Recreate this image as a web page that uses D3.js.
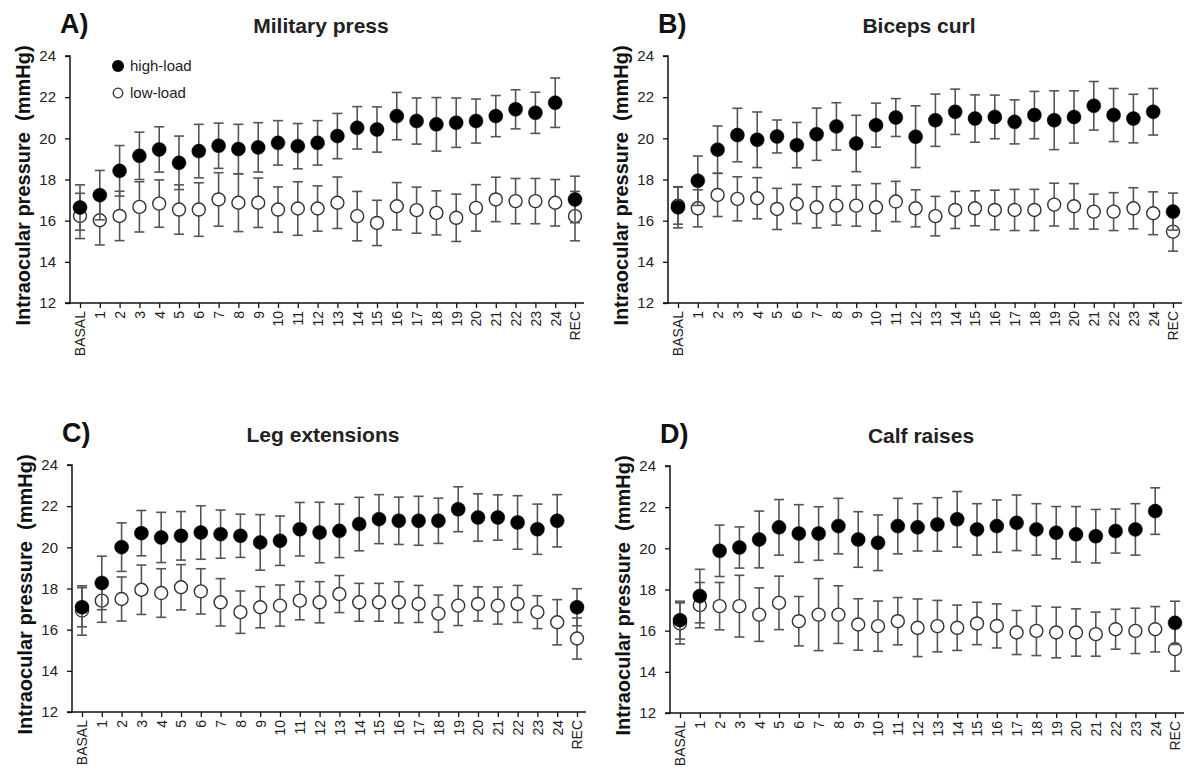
<!DOCTYPE html>
<html>
<head>
<meta charset="utf-8">
<script src="https://cdn.jsdelivr.net/npm/d3@7"></script>
<style>
  body { margin: 0; background: #fff; }
  text { font-family: Arial, "Liberation Sans", sans-serif; }
</style>
</head>
<body>
<svg id="chart" width="1186" height="780"></svg>
<script>
// Time points (x categories)
const categories = ["BASAL", "1", "2", "3", "4", "5", "6", "7", "8", "9", "10", "11", "12",
  "13", "14", "15", "16", "17", "18", "19", "20", "21", "22", "23", "24", "REC"];

const yTicks = [12, 14, 16, 18, 20, 22, 24];

// Military press
const militaryHighMean = [16.64, 17.24, 18.42, 19.15, 19.46, 18.81, 19.38, 19.64, 19.48, 19.56, 19.78, 19.62, 19.78,
  20.11, 20.51, 20.43, 21.08, 20.84, 20.68, 20.76, 20.84, 21.08, 21.41, 21.24, 21.73, 17.03];
const militaryHighSd = [1.1, 1.2, 1.23, 1.15, 1.1, 1.3, 1.3, 1.1, 1.2, 1.2, 1.08, 1.1, 1.08,
  1.1, 1.03, 1.1, 1.15, 1.12, 1.3, 1.2, 1.07, 1.0, 0.95, 1.0, 1.2, 1.13];
const militaryLowMean = [16.23, 16.02, 16.23, 16.67, 16.83, 16.54, 16.54, 17.03, 16.87, 16.87, 16.54, 16.59, 16.59,
  16.87, 16.22, 15.89, 16.7, 16.51, 16.38, 16.14, 16.62, 17.03, 16.95, 16.95, 16.87, 16.22];
const militaryLowSd = [1.1, 1.2, 1.2, 1.22, 1.15, 1.2, 1.3, 1.3, 1.4, 1.2, 1.1, 1.3, 1.1,
  1.25, 1.2, 1.1, 1.15, 1.12, 1.07, 1.15, 1.13, 1.08, 1.1, 1.1, 1.13, 1.2];

// Biceps curl
const bicepsHighMean = [16.65, 17.94, 19.45, 20.16, 19.93, 20.09, 19.67, 20.2, 20.58, 19.75, 20.64, 21.01, 20.08,
  20.88, 21.29, 20.96, 21.04, 20.8, 21.13, 20.88, 21.04, 21.58, 21.13, 20.96, 21.29, 16.44];
const bicepsHighSd = [1.0, 1.2, 1.15, 1.3, 1.35, 0.8, 1.1, 1.27, 1.15, 1.37, 1.07, 0.92, 1.5,
  1.27, 1.1, 1.15, 1.06, 1.07, 1.15, 1.43, 1.27, 1.18, 1.29, 1.18, 1.13, 0.9];
const bicepsLowMean = [16.73, 16.6, 17.25, 17.06, 17.09, 16.57, 16.81, 16.65, 16.73, 16.73, 16.65, 16.93, 16.6,
  16.22, 16.52, 16.6, 16.52, 16.52, 16.52, 16.78, 16.7, 16.44, 16.44, 16.6, 16.36, 15.47];
const bicepsLowSd = [0.9, 0.9, 1.05, 1.07, 1.0, 1.0, 0.95, 1.0, 0.95, 1.0, 1.15, 0.98, 0.9,
  0.96, 0.9, 0.85, 0.96, 1.0, 1.0, 1.04, 1.1, 0.85, 0.92, 1.0, 1.04, 0.95];

// Leg extensions
const legHighMean = [17.09, 18.27, 20.01, 20.69, 20.48, 20.56, 20.72, 20.64, 20.56, 20.24, 20.32, 20.88, 20.72,
  20.8, 21.13, 21.37, 21.29, 21.29, 21.29, 21.85, 21.45, 21.45, 21.21, 20.88, 21.29, 17.09];
const legHighSd = [0.95, 1.3, 1.18, 1.1, 1.22, 1.18, 1.3, 1.17, 1.05, 1.35, 1.2, 1.3, 1.47,
  1.3, 1.3, 1.19, 1.15, 1.19, 1.1, 1.09, 1.15, 1.1, 1.3, 1.22, 1.27, 0.9];
const legLowMean = [16.93, 17.41, 17.49, 17.94, 17.78, 18.06, 17.86, 17.33, 16.85, 17.09, 17.17, 17.41, 17.33,
  17.73, 17.33, 17.33, 17.33, 17.25, 16.78, 17.17, 17.25, 17.17, 17.25, 16.85, 16.36, 15.57];
const legLowSd = [1.2, 1.05, 1.07, 1.2, 1.18, 1.1, 1.1, 1.15, 1.03, 1.0, 1.0, 0.93, 1.0,
  0.9, 0.92, 0.92, 1.0, 0.9, 0.9, 0.97, 0.83, 0.9, 0.9, 0.8, 1.1, 1.0];

// Calf raises
const calfHighMean = [16.51, 17.68, 19.88, 20.04, 20.43, 21.02, 20.72, 20.72, 21.08, 20.43, 20.27, 21.08, 21.02,
  21.16, 21.41, 20.92, 21.08, 21.24, 20.92, 20.76, 20.68, 20.59, 20.84, 20.92, 21.81, 16.38];
const calfHighSd = [0.92, 1.3, 1.25, 1.0, 1.38, 1.35, 1.4, 1.3, 1.35, 1.35, 1.35, 1.35, 1.15,
  1.3, 1.35, 1.25, 1.27, 1.35, 1.25, 1.27, 1.35, 1.3, 1.07, 1.25, 1.13, 1.05];
const calfLowMean = [16.35, 17.24, 17.19, 17.19, 16.78, 17.35, 16.46, 16.78, 16.78, 16.3, 16.22, 16.46, 16.14,
  16.22, 16.14, 16.35, 16.23, 15.91, 15.99, 15.91, 15.91, 15.83, 16.07, 15.99, 16.07, 15.1];
const calfLowSd = [1.0, 1.1, 1.15, 1.5, 1.3, 1.3, 1.2, 1.75, 1.4, 1.25, 1.22, 1.15, 1.4,
  1.25, 1.1, 1.03, 1.07, 1.07, 1.2, 1.23, 1.15, 1.07, 0.97, 1.1, 1.1, 1.07];

const panelLetters = ["A)", "B)", "C)", "D)"];
const panelTitles = ["Military press", "Biceps curl", "Leg extensions", "Calf raises"];

// Panels: where each plot area sits on the page
const panels = [
  { letter: panelLetters[0], title: panelTitles[0], left: 70, top: 56,
    high: [militaryHighMean, militaryHighSd], low: [militaryLowMean, militaryLowSd], legend: true },
  { letter: panelLetters[1], title: panelTitles[1], left: 668, top: 56,
    high: [bicepsHighMean, bicepsHighSd], low: [bicepsLowMean, bicepsLowSd] },
  { letter: panelLetters[2], title: panelTitles[2], left: 72, top: 465,
    high: [legHighMean, legHighSd], low: [legLowMean, legLowSd] },
  { letter: panelLetters[3], title: panelTitles[3], left: 670, top: 466,
    high: [calfHighMean, calfHighSd], low: [calfLowMean, calfLowSd] },
];

const width = 514;
const height = 247;
const svg = d3.select("#chart");

panels.forEach((p) => {
  const g = svg.append("g").attr("transform", `translate(${p.left},${p.top})`);

  const x = d3.scalePoint().domain(categories).range([10, width - 9]);
  const y = d3.scaleLinear().domain([12, 24]).range([height, 0]);

  // Y axis
  const yAxis = g.append("g")
    .call(d3.axisLeft(y).tickValues(yTicks).tickSize(5).tickPadding(9));
  yAxis.select(".domain").attr("stroke", "#111").attr("stroke-width", 1.5).attr("d", `M-5,${height}H0V0H-5`);
  yAxis.selectAll(".tick line").attr("stroke", "#111").attr("stroke-width", 1.3);
  yAxis.selectAll(".tick text").attr("font-size", 15).attr("fill", "#222")
    .style("font-family", "Arial, 'Liberation Sans', sans-serif");

  // X axis
  const xAxis = g.append("g")
    .attr("transform", `translate(0,${height})`)
    .call(d3.axisBottom(x).tickSize(5).tickPadding(4).tickSizeOuter(0));
  xAxis.select(".domain").attr("stroke", "#111").attr("stroke-width", 1.5).attr("d", `M0,0H${width}`);
  xAxis.selectAll(".tick line").attr("stroke", "#111").attr("stroke-width", 1.3);
  xAxis.selectAll(".tick text")
    .attr("font-size", 14).attr("fill", "#222")
    .style("font-family", "Arial, 'Liberation Sans', sans-serif")
    .attr("text-anchor", "end")
    .attr("dy", "0.35em")
    .attr("transform", "translate(0,8) rotate(-90)")
    .attr("x", 0).attr("y", 0);

  // Series: low-load first, high-load on top
  const series = [
    { mean: p.low[0], sd: p.low[1], fill: "#fff", stroke: "#333", r: 6.5, sw: 1.4 },
    { mean: p.high[0], sd: p.high[1], fill: "#000", stroke: "#000", r: 7, sw: 0.5 },
  ];

  series.forEach((s) => {
    const rows = categories.map((c, i) => ({ c: c, m: s.mean[i], sd: s.sd[i] }));
    const sg = g.append("g");
    const bars = sg.selectAll(".err").data(rows).enter().append("g")
      .attr("stroke", "#555").attr("stroke-width", 1.6);
    bars.append("line")
      .attr("x1", (d) => x(d.c)).attr("x2", (d) => x(d.c))
      .attr("y1", (d) => y(d.m + d.sd)).attr("y2", (d) => y(d.m - d.sd));
    bars.append("line")
      .attr("x1", (d) => x(d.c) - 5).attr("x2", (d) => x(d.c) + 5)
      .attr("y1", (d) => y(d.m + d.sd)).attr("y2", (d) => y(d.m + d.sd));
    bars.append("line")
      .attr("x1", (d) => x(d.c) - 5).attr("x2", (d) => x(d.c) + 5)
      .attr("y1", (d) => y(d.m - d.sd)).attr("y2", (d) => y(d.m - d.sd));
    sg.selectAll("circle").data(rows).enter().append("circle")
      .attr("cx", (d) => x(d.c)).attr("cy", (d) => y(d.m))
      .attr("r", s.r).attr("fill", s.fill)
      .attr("stroke", s.stroke).attr("stroke-width", s.sw);
  });

  // Panel letter and title
  svg.append("text")
    .attr("x", p.left - 10).attr("y", p.top - 23)
    .attr("font-size", 27).attr("font-weight", "bold").attr("fill", "#111")
    .text(p.letter);
  svg.append("text")
    .attr("x", p.left + 251).attr("y", p.top - 23)
    .attr("text-anchor", "middle")
    .attr("font-size", 21).attr("font-weight", "bold").attr("fill", "#222")
    .text(p.title);

  // Y axis title
  svg.append("text")
    .attr("transform", `translate(${p.left - 40},${p.top + height / 2 + 6}) rotate(-90)`)
    .attr("text-anchor", "middle")
    .attr("font-size", 20).attr("font-weight", "bold").attr("fill", "#111")
    .style("white-space", "pre")
    .text("Intraocular pressure  (mmHg)");

  // Legend (panel A only)
  if (p.legend) {
    const lg = g.append("g").attr("transform", "translate(48,10)");
    lg.append("circle").attr("cx", 0).attr("cy", 0).attr("r", 6).attr("fill", "#000");
    lg.append("text").attr("x", 12).attr("y", 5).attr("font-size", 15).attr("fill", "#222").text("high-load");
    lg.append("circle").attr("cx", 0).attr("cy", 27).attr("r", 4.8)
      .attr("fill", "#fff").attr("stroke", "#333").attr("stroke-width", 1.3);
    lg.append("text").attr("x", 12).attr("y", 32).attr("font-size", 15).attr("fill", "#222").text("low-load");
  }
});
</script>
</body>
</html>
